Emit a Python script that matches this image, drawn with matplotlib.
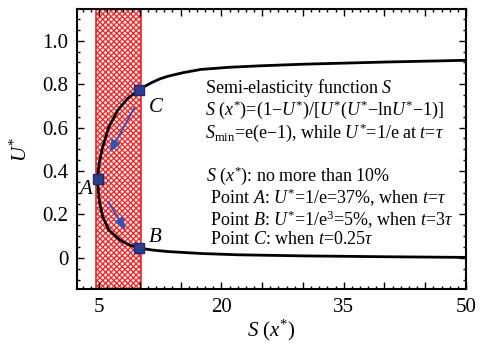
import matplotlib
matplotlib.use("Agg")
import matplotlib.pyplot as plt
from matplotlib.ticker import MultipleLocator, FixedLocator, FixedFormatter

plt.rcParams['font.family'] = ['Liberation Serif', 'DejaVu Serif']
plt.rcParams['mathtext.fontset'] = 'custom'
plt.rcParams['mathtext.rm'] = 'Liberation Serif'
plt.rcParams['mathtext.it'] = 'Liberation Serif:italic'
plt.rcParams['mathtext.cal'] = 'Liberation Serif:italic'
plt.rcParams['hatch.linewidth'] = 0.9

# curve S(x*) vs U*, traced from the upper-right end round to the lower-right end
upper_S = [50, 45, 40, 35, 30, 25, 21, 17.5, 15.3, 13.5, 12.5, 11.5, 10.6, 9.95]
upper_U = [0.910, 0.906, 0.902, 0.897, 0.892, 0.885, 0.878, 0.868, 0.853, 0.837, 0.825, 0.808, 0.79, 0.775]
mid_S = [9.4, 8.5, 7.3, 6.2, 5.45, 5.05, 4.88, 4.85, 4.9, 5.05, 5.45, 6.2, 7.6, 8.8, 9.95]
mid_U = [0.760, 0.734, 0.680, 0.603, 0.511, 0.440, 0.395, 0.365, 0.315, 0.260, 0.189, 0.128, 0.081, 0.058, 0.045]
lower_S = [11.5, 13.4, 17.5, 22, 30, 40, 50]
lower_U = [0.036, 0.029, 0.020, 0.014, 0.009, 0.005, 0.002]

# marked points
pt_names = ['A', 'B', 'C']
pt_S = [4.85, 9.95, 9.95]
pt_U = [0.365, 0.045, 0.775]

# shaded range of S
band_lo, band_hi = 4.67, 10.15

x_ticks = [5, 20, 35, 50]
y_ticks = [0, 0.2, 0.4, 0.6, 0.8, 1.0]
y_ticklabels = ['0', '0.2', '0.4', '0.6', '0.8', '1.0']

notes_top = [
    "Semi-elasticity function $S$",
    "$S$ ($x^{*}$)=(1\u2212$U^{*}$)/[$U^{*}$($U^{*}$\u2212ln$U^{*}$\u22121)]",
    "$S_{\\rm min}$=e(e\u22121), while $U^{*}$=1/e at $t$=$\\tau$",
]
notes_bottom = [
    "$S$ ($x^{*}$): no more than 10%",
    " Point $A$: $U^{*}$=1/e=37%, when $t$=$\\tau$",
    " Point $B$: $U^{*}$=1/e$^{3}$=5%, when $t$=3$\\tau$",
    " Point $C$: when $t$=0.25$\\tau$",
]

fig = plt.figure(figsize=(4.86, 3.44), dpi=100)
ax = fig.add_axes([77 / 486, 1 - 289.3 / 344, (466 - 77) / 486, (289.3 - 9.3) / 344])

ax.axvspan(band_lo, band_hi, facecolor='#fde6e6', edgecolor='#e8282a', hatch='xxxxxx',
           linewidth=1.2, zorder=1)

curve_S = upper_S + mid_S + lower_S
curve_U = upper_U + mid_U + lower_U
ax.plot(curve_S, curve_U, color='black', lw=2.0, zorder=3, solid_joinstyle='round')

ax.plot(pt_S, pt_U, linestyle='none', marker='s', markersize=7.5,
        color='#2e3d8f', markeredgecolor='#1e2a70', zorder=5)

ax.text(3.3, 0.315, 'A', fontstyle='italic', fontsize=15, ha='center', va='center', zorder=6)
ax.text(11.9, 0.094, 'B', fontstyle='italic', fontsize=15, ha='center', va='center', zorder=6)
ax.text(11.9, 0.692, 'C', fontstyle='italic', fontsize=15, ha='center', va='center', zorder=6)

arrow_kw = dict(arrowstyle='-|>,head_length=0.7,head_width=0.28', color='#3b4fb0', lw=1.4)
ax.annotate('', xy=(6.15, 0.473), xytext=(9.5, 0.703), arrowprops=arrow_kw, zorder=4)
ax.annotate('', xy=(8.45, 0.117), xytext=(5.95, 0.27), arrowprops=arrow_kw, zorder=4)

ax.text(18.0, 0.680, "\n".join(notes_top), fontsize=13, ha='left', va='center',
        linespacing=1.0, zorder=6)
ax.text(18.1, 0.238, "\n".join(notes_bottom), fontsize=13, ha='left', va='center',
        linespacing=1.0, zorder=6)

ax.set_xlim(2.3, 50)
ax.set_ylim(-0.145, 1.145)

ax.xaxis.set_major_locator(MultipleLocator(5))
ax.xaxis.set_major_formatter(plt.FuncFormatter(lambda v, p: f"{v:g}" if round(v) in x_ticks else ""))
ax.xaxis.set_minor_locator(MultipleLocator(1))
ax.yaxis.set_major_locator(FixedLocator(y_ticks))
ax.yaxis.set_major_formatter(FixedFormatter(y_ticklabels))
ax.yaxis.set_minor_locator(MultipleLocator(0.05))

ax.tick_params(which='both', direction='in', top=True, right=True, width=1.0)
ax.tick_params(which='major', length=5, labelsize=15, pad=6)
ax.tick_params(which='minor', length=2.5)
for s in ax.spines.values():
    s.set_linewidth(1.5)

ax.set_xlabel("$S$ ($x^{*}$)", fontsize=15, labelpad=1)
ax.set_ylabel("$U^{*}$", fontsize=15, labelpad=8)

fig.savefig("out.png", dpi=100)
